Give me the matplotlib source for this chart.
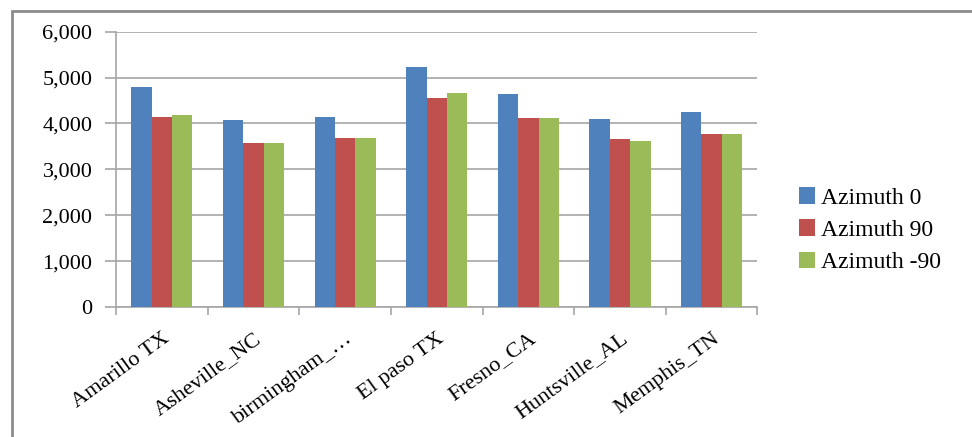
import matplotlib

matplotlib.use("Agg")
import matplotlib.pyplot as plt
import numpy as np
from matplotlib.patches import Rectangle

cities = ["Amarillo TX", "Asheville_NC", "birmingham_\u2026", "El paso TX",
          "Fresno_CA", "Huntsville_AL", "Memphis_TN"]
series = ["Azimuth 0", "Azimuth 90", "Azimuth -90"]
az_0 = [4795, 4080, 4140, 5230, 4640, 4100, 4240]
az_90 = [4140, 3570, 3680, 4565, 4115, 3660, 3760]
az_m90 = [4180, 3570, 3680, 4660, 4115, 3615, 3760]
yticks = [0, 1000, 2000, 3000, 4000, 5000, 6000]

COLORS = ["#4F81BD", "#C0504D", "#9BBB59"]
GRID = "#a6a6a6"
FONT = "Liberation Serif"

fig = plt.figure(figsize=(9.72, 4.37), dpi=100, facecolor="white")
ax = fig.add_axes([0.1193, 0.2975, 0.66, 0.63])

x = np.arange(len(cities))
w = 0.222
for i, (vals, name) in enumerate(zip([az_0, az_90, az_m90], series)):
    ax.bar(x + (i - 1) * w, vals, width=w, color=COLORS[i], label=name,
           zorder=3)

ax.set_xlim(-0.5, len(cities) - 0.5)
ax.set_ylim(0, 6000)
ax.set_yticks(yticks)
ax.set_yticklabels([f"{v:,}" for v in yticks], fontfamily=FONT, fontsize=16)
ax.yaxis.grid(True, color=GRID, linewidth=1.2, zorder=0)
ax.tick_params(axis="y", length=8, color=GRID, width=1.2, pad=9)

# labels sit under the category centres, tick marks between categories
ax.set_xticks(x)
ax.set_xticklabels(cities, rotation=36, ha="right", rotation_mode="anchor",
                   fontfamily=FONT, fontsize=16)
ax.tick_params(axis="x", which="major", length=0, pad=16)
ax.set_xticks(np.arange(len(cities) + 1) - 0.5, minor=True)
ax.tick_params(axis="x", which="minor", length=6, color=GRID, width=1.2)

for side in ("top", "right"):
    ax.spines[side].set_visible(False)
for side in ("left", "bottom"):
    ax.spines[side].set_color(GRID)
    ax.spines[side].set_linewidth(1.2)

leg = fig.legend(loc="upper left", bbox_to_anchor=(0.800, 0.62),
                 frameon=False, prop={"family": FONT, "size": 17},
                 handlelength=0.7, handleheight=0.7, handletextpad=0.25,
                 labelspacing=0.45)

# outer chart frame (only top and left edges fall inside the image)
fig.patches.append(Rectangle((12 / 972, -0.05), 1.0, 1 - 11 / 437 + 0.05,
                             transform=fig.transFigure, fill=False,
                             edgecolor="#8c8c8c", linewidth=2))

fig.savefig("out.png", dpi=100, facecolor="white")
